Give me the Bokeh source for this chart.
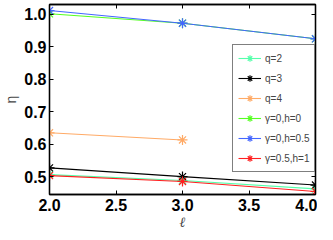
from bokeh.plotting import figure
from bokeh.models import LinearAxis, Range1d, Legend, LegendItem, FixedTicker, PrintfTickFormatter
from bokeh.embed import file_html
from bokeh.resources import INLINE

ell = [2.0, 3.0, 4.0]
q2 = [0.506, 0.488, 0.462]
q3 = [0.527, 0.500, 0.474]
ell_q4 = [2.0, 3.0]
q4 = [0.635, 0.613]
g0h0 = [1.002, 0.973, 0.925]
g0h05 = [1.012, 0.973, 0.925]
g05h1 = [0.503, 0.485, 0.454]

labels = ["q=2", "q=3", "q=4", "\u03b3=0,h=0", "\u03b3=0,h=0.5", "\u03b3=0.5,h=1"]
colors = ["#55ffaa", "#000000", "#ffaa66", "#55ff22", "#4466ff", "#ff2020"]
xs_all = [ell, ell, ell_q4, ell, ell, ell]
ys_all = [q2, q3, q4, g0h0, g0h05, g05h1]

xticks = [2.0, 2.5, 3.0, 3.5, 4.0]
yticks = [0.5, 0.6, 0.7, 0.8, 0.9, 1.0]

p = figure(width=317, height=232, output_backend="svg", toolbar_location=None,
           x_range=Range1d(2.0, 4.0), y_range=Range1d(0.4448, 1.0307),
           min_border_left=44, min_border_right=2, min_border_bottom=37, min_border_top=4)
p.outline_line_color = "black"
p.outline_line_width = 1.3
p.grid.visible = False

font = "Liberation Sans"
for ax in (p.xaxis[0], p.yaxis[0]):
    ax.major_tick_in = 4
    ax.major_tick_out = 0
    ax.minor_tick_in = 0
    ax.minor_tick_out = 0
    ax.axis_line_width = 1.3
    ax.major_label_text_font = font
    ax.major_label_text_font_style = "bold"
    ax.major_label_text_font_size = "16px"
    ax.major_label_text_color = "black"
p.xaxis[0].ticker = FixedTicker(ticks=xticks)
p.yaxis[0].ticker = FixedTicker(ticks=yticks)
p.xaxis[0].formatter = PrintfTickFormatter(format="%.1f")
p.yaxis[0].formatter = PrintfTickFormatter(format="%.1f")
p.xaxis[0].major_label_standoff = 4
p.yaxis[0].major_label_standoff = 3
p.xaxis[0].axis_label = "\u2113"
p.xaxis[0].axis_label_text_font = "DejaVu Serif"
p.xaxis[0].axis_label_text_font_style = "italic"
p.xaxis[0].axis_label_text_font_size = "14px"
p.xaxis[0].axis_label_standoff = 0
p.yaxis[0].axis_label = "\u03b7"
p.yaxis[0].axis_label_text_font = font
p.yaxis[0].axis_label_text_font_style = "normal"
p.yaxis[0].axis_label_text_font_size = "14px"
p.yaxis[0].axis_label_standoff = 2

for loc, tk in (("right", yticks), ("above", xticks)):
    ax = LinearAxis(ticker=FixedTicker(ticks=tk), major_label_text_font_size="1px",
                    major_label_text_color=None, major_label_standoff=0,
                    major_tick_in=4, major_tick_out=0, minor_tick_in=0, minor_tick_out=0,
                    axis_line_width=1.3)
    p.add_layout(ax, loc)

items = []
for label, xs, ys, color in zip(labels, xs_all, ys_all, colors):
    ln = p.line(xs, ys, line_color=color, line_width=1.1)
    mk = p.scatter(xs, ys, marker="asterisk", size=10, line_color=color, line_width=1.2)
    items.append(LegendItem(label=label, renderers=[ln, mk]))

legend = Legend(items=items, location=(183, 22))
legend.label_text_font = font
legend.label_text_font_size = "10px"
legend.glyph_width = 23
legend.glyph_height = 16
legend.label_height = 16
legend.spacing = 4
legend.padding = 5
legend.label_standoff = 4
legend.border_line_color = "black"
legend.border_line_width = 1
legend.background_fill_alpha = 1
p.add_layout(legend, "center")

open("out.html", "w").write(file_html(p, INLINE))
